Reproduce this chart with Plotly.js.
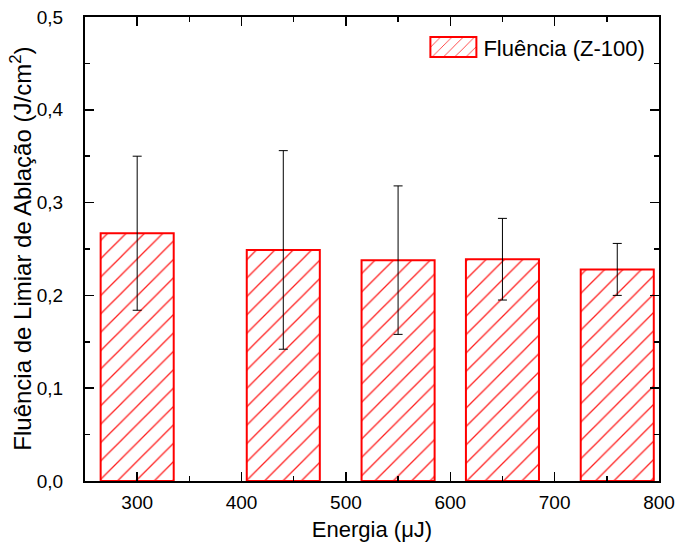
<!DOCTYPE html>
<html>
<head>
<meta charset="utf-8">
<script src="https://cdn.plot.ly/plotly-3.0.1.min.js"></script>
<style>html,body{margin:0;padding:0;background:#fff;}#chart{width:677px;height:552px;}</style>
</head>
<body>
<div id="chart"></div>
<script>
// Data
const energia = [300, 440, 550, 650, 760];          // µJ
const fluencia = [0.267, 0.249, 0.238, 0.239, 0.228]; // J/cm²
const erro = [0.083, 0.107, 0.080, 0.044, 0.028];
const serieNome = 'Fluência (Z-100)';
const xTicks = [300, 400, 500, 600, 700, 800];
const yTicks = [0, 0.1, 0.2, 0.3, 0.4, 0.5];
const xTitulo = 'Energia (μJ)';
const yTitulo = 'Fluência de Limiar de Ablação (J/cm<sup>2</sup>)';

const FONT = 'Arial, "Liberation Sans", Helvetica, sans-serif';

const trace = {
  type: 'bar',
  x: energia,
  y: fluencia,
  width: 70,
  name: serieNome,
  marker: {
    color: '#ffffff',
    line: {color: '#ff0000', width: 2},
    pattern: {shape: '/', fgcolor: '#ff2020', bgcolor: '#ffffff', size: 13, solidity: 0.1}
  },
  error_y: {type: 'data', array: erro, visible: true, color: '#000000', thickness: 1, width: 4.5}
};

const axisCommon = {
  showline: true, linecolor: '#000', linewidth: 2, mirror: 'ticks',
  ticks: 'inside', ticklen: 9, tickwidth: 1.5, tickcolor: '#000',
  showgrid: false, zeroline: false,
  tickfont: {family: FONT, size: 19, color: '#000'}
};

const layout = {
  width: 677, height: 552,
  margin: {l: 85, r: 18, t: 17, b: 71},
  paper_bgcolor: '#fff', plot_bgcolor: '#fff',
  separators: ', ',
  font: {family: FONT, color: '#000'},
  showlegend: true,
  legend: {
    x: 0.985, xanchor: 'right', y: 0.935, yanchor: 'middle',
    bgcolor: 'rgba(0,0,0,0)', borderwidth: 0, itemwidth: 50,
    font: {family: FONT, size: 22, color: '#000'}
  },
  xaxis: Object.assign({}, axisCommon, {
    range: [250, 800], tickvals: xTicks, ticklabelstandoff: 3,
    minor: {dtick: 50, tick0: 250, ticks: 'inside', ticklen: 5, tickwidth: 1.5, tickcolor: '#000'},
    title: {text: xTitulo, font: {family: FONT, size: 22, color: '#000'}, standoff: 10}
  }),
  yaxis: Object.assign({}, axisCommon, {
    range: [0, 0.5], tickvals: yTicks, tickformat: '.1f', ticklabelstandoff: 16,
    minor: {dtick: 0.05, tick0: 0, ticks: 'inside', ticklen: 5, tickwidth: 1.5, tickcolor: '#000'}
  }),
  annotations: [{
    text: yTitulo, textangle: -90, showarrow: false,
    xref: 'paper', yref: 'paper', x: -0.112, y: 0.5, xanchor: 'center', yanchor: 'middle',
    font: {family: FONT, size: 24, color: '#000'}
  }]
};

Plotly.newPlot('chart', [trace], layout, {displayModeBar: false, staticPlot: true}).then(function (gd) {
  // enlarge the legend swatch to the wide hatched box of the reference
  gd.querySelectorAll('.legend .legendpoints path').forEach(function (p) {
    p.setAttribute('d', 'M-23,-10H23V10H-23Z');
  });
});
</script>
</body>
</html>
